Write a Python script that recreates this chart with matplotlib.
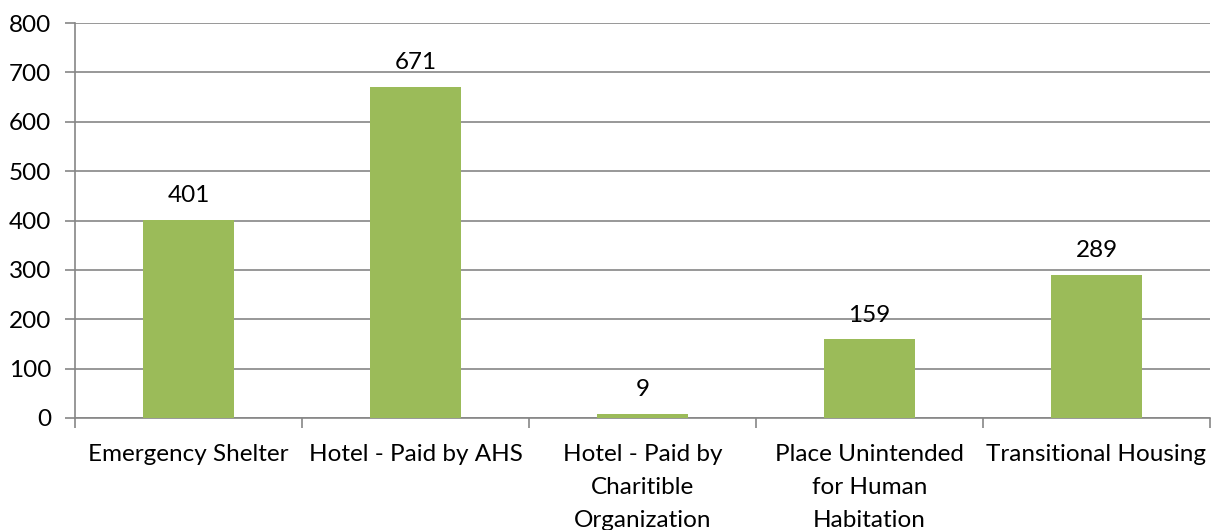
import matplotlib
matplotlib.use("Agg")
import matplotlib.pyplot as plt
import numpy as np

categories = ["Emergency Shelter", "Hotel - Paid by AHS", "Hotel - Paid by\nCharitible\nOrganization",
              "Place Unintended\nfor Human\nHabitation", "Transitional Housing"]
values = [401, 671, 9, 159, 289]
yticks = [0, 100, 200, 300, 400, 500, 600, 700, 800]

plt.rcParams['font.family'] = ['Lato', 'DejaVu Sans']
FS = 17.5
fig = plt.figure(figsize=(12.21, 5.30), dpi=100)
W, H = 1221, 530
left, right, top, bottom = 75, 1210, 23, 418
ax = fig.add_axes([left / W, 1 - bottom / H, (right - left) / W, (bottom - top) / H])

x = np.arange(len(categories))
bars = ax.bar(x, values, width=0.4, color="#9BBB59", zorder=3)
for xi, v in zip(x, values):
    ax.annotate(str(v), (xi, v), xytext=(0, 10), textcoords="offset points",
                ha="center", va="bottom", fontsize=FS, color="black")

ax.set_xlim(-0.5, len(categories) - 0.5)
ax.set_ylim(0, 800)
ax.set_yticks(yticks)
ax.set_yticklabels([str(t) for t in yticks], fontsize=FS)
ax.yaxis.grid(True, color="#868686", linewidth=1.2, zorder=0)
ax.set_axisbelow(True)

ax.set_xticks(x)
ax.set_xticklabels(categories, fontsize=FS, linespacing=1.68)
ax.tick_params(axis="x", length=0, pad=19)
ax.set_xticks(np.arange(-0.5, len(categories)), minor=True)
ax.tick_params(axis="x", which="minor", length=7, width=1.2, color="#868686")
ax.tick_params(axis="y", length=7, width=1.2, color="#868686", pad=10)

for s in ["top", "right"]:
    ax.spines[s].set_visible(False)
for s in ["left", "bottom"]:
    ax.spines[s].set_color("#868686")
    ax.spines[s].set_linewidth(1.2)

fig.savefig("out.png", dpi=100, facecolor="white")
